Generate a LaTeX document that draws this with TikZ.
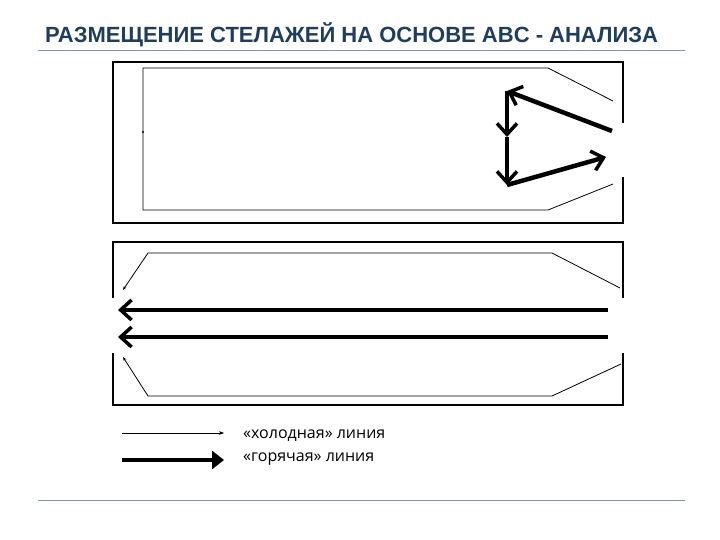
\documentclass[tikz,border=0pt]{standalone}
\usepackage{fontspec}
\setmainfont{Liberation Sans}
\newfontfamily\legfont{Open Sans}
\usetikzlibrary{arrows.meta}
\definecolor{ttl}{HTML}{1F3D5C}
\definecolor{rule}{HTML}{7F93A8}
\tikzset{box/.style={line width=2pt},cold/.style={line width=0.8pt},
hot/.style={line width=4.5pt,-{Straight Barb[length=11pt,width=20pt,line width=3.5pt]}},
hotleg/.style={line width=4.5pt,-{Triangle[length=12pt,width=18pt]}},
lbl/.style={anchor=west,font=\legfont\fontsize{16}{18}\selectfont,inner sep=0}}
\begin{document}
\begin{tikzpicture}[x=1pt,y=-1pt]
\useasboundingbox (0,0) rectangle (720,540);
\node[anchor=west,font=\bfseries\fontsize{22}{24}\selectfont,text=ttl,inner sep=0] (title) at (45,35) {РАЗМЕЩЕНИЕ СТЕЛАЖЕЙ НА ОСНОВЕ ABC - АНАЛИЗА};
\coordinate (r1a) at (38,50); \coordinate (r1b) at (685,50);
\coordinate (r2a) at (38,500); \coordinate (r2b) at (685,500);
\draw[rule,line width=0.8pt] (r1a) -- (r1b);
\draw[rule,line width=0.6pt] (r2a) -- (r2b);
% box 1
\draw[box] (623,123) -- (623,62) -- (113,62) -- (113,223) -- (623,223) -- (623,177);
\draw[cold] (613,101) -- (548,68) -- (143,68) -- (143,210) -- (548,210) -- (613,184);
\fill (143,132) circle (1.2pt);
\coordinate (h1) at (612,131); \coordinate (h2) at (507,91); \coordinate (h3) at (507,137);
\coordinate (h4) at (507,185); \coordinate (h5) at (606,157);
\draw[hot] (h1) -- (h2);
\draw[hot] (h2) -- (h3);
\draw[hot] (h3) -- (h4);
\draw[hot] (h4) -- (h5);
% box 2
\draw[box] (623,298) -- (623,242) -- (113,242) -- (113,298);
\draw[box] (113,353) -- (113,405) -- (623,405) -- (623,353);
\draw[cold,-{Stealth[length=4pt]}] (620,288) -- (552,253) -- (148,253) -- (123,290);
\draw[cold,-{Stealth[length=4pt]}] (621,364) -- (552,396) -- (148,396) -- (123,357);
\coordinate (a1) at (608,310); \coordinate (b1) at (118,310);
\coordinate (a2) at (608,337); \coordinate (b2) at (118,337);
\draw[hot] (a1) -- (b1);
\draw[hot] (a2) -- (b2);
% legend
\coordinate (l1) at (122,433); \coordinate (l2) at (224,433);
\coordinate (l3) at (122,460); \coordinate (l4) at (224,460);
\draw[cold,-{Stealth[length=5pt]}] (l1) -- (l2);
\draw[hotleg] (l3) -- (l4);
\node[lbl] (t1) at (243,436) {«холодная» линия};
\node[lbl] (t2) at (243,459) {«горячая» линия};
\end{tikzpicture}
\end{document}
